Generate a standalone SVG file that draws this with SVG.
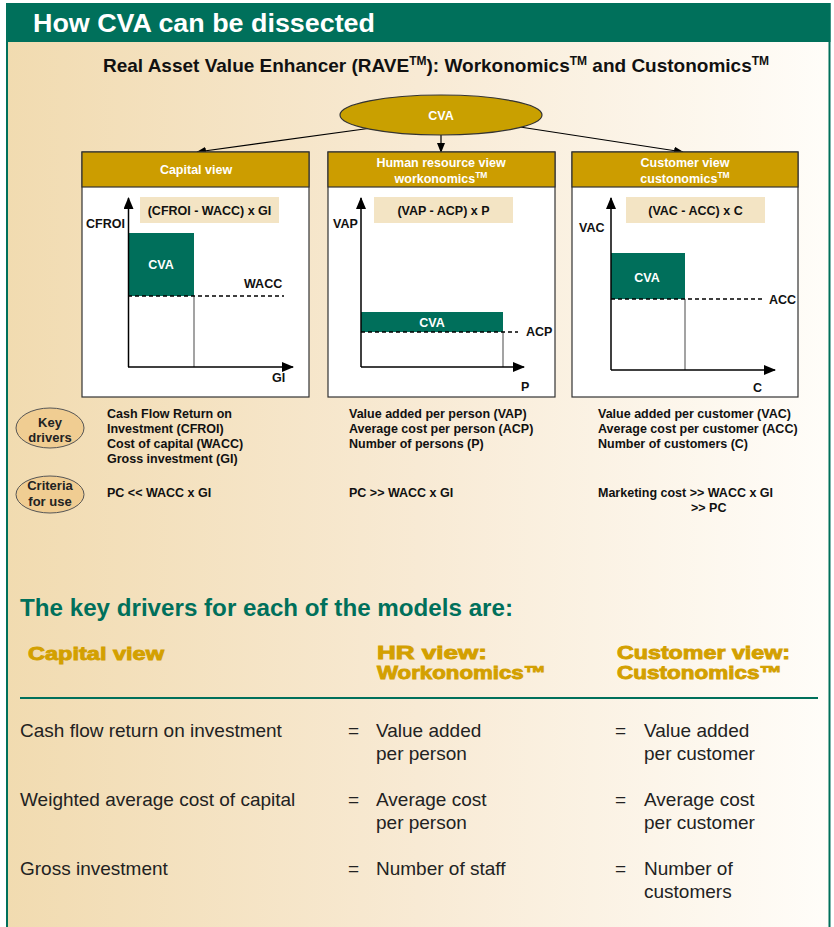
<svg xmlns="http://www.w3.org/2000/svg" width="834" height="927" viewBox="0 0 834 927">
<defs>
<linearGradient id="bg" x1="0" y1="0" x2="1" y2="0">
<stop offset="0" stop-color="#f1dbb0"/>
<stop offset="0.5" stop-color="#f8ead4"/>
<stop offset="1" stop-color="#fffdf9"/>
</linearGradient>
<marker id="ah" markerWidth="10" markerHeight="8" refX="9" refY="4" orient="auto" markerUnits="userSpaceOnUse">
<path d="M0,0 L10,4 L0,8 Z" fill="#000"/>
</marker>
<marker id="ax" markerWidth="12" markerHeight="10" refX="11" refY="5" orient="auto" markerUnits="userSpaceOnUse">
<path d="M0,0 L12,5 L0,10 Z" fill="#000"/>
</marker>
</defs>
<style>
text{font-family:"Liberation Sans",Arial,sans-serif}
.hd{fill:#fff;font-weight:bold;font-size:12.5px;text-anchor:middle}
.box{fill:#fff;stroke:#333;stroke-width:1.2}
.band{fill:#cc9d00;stroke:#333;stroke-width:1.2}
.fb{fill:#f3e4c4}
.ft{font-weight:bold;font-size:12.5px;text-anchor:middle;fill:#111}
.ax{stroke:#000;stroke-width:1.5;fill:none;marker-end:url(#ax)}
.cva{fill:#006f5b}
.cvt{fill:#fff;font-weight:bold;font-size:12.5px;text-anchor:middle}
.vl{stroke:#666;stroke-width:1.2}
.dash{stroke:#000;stroke-width:1.6;stroke-dasharray:4 3}
.lb{font-weight:bold;font-size:12.5px;fill:#111}
.kd{font-weight:bold;font-size:12.5px;fill:#111}
.oval{fill:#f0cd92;stroke:#555;stroke-width:1}
.ot{font-weight:bold;font-size:13px;text-anchor:middle;fill:#222}
.gold{fill:#d3a000;stroke:#d3a000;stroke-width:0.9;font-weight:bold;font-size:18.5px}
.row{font-size:19px;fill:#222}
.con{stroke:#000;stroke-width:1.2;fill:none;marker-end:url(#ah)}
</style>
<rect x="0" y="0" width="834" height="927" fill="#fff"/>
<rect x="6" y="3" width="824" height="924" fill="url(#bg)"/>
<line x1="7" y1="3" x2="7" y2="927" stroke="#00705b" stroke-width="2"/>
<line x1="829.5" y1="3" x2="829.5" y2="927" stroke="#00705b" stroke-width="2"/>
<rect x="6" y="3" width="824.5" height="39" fill="#00705b"/>
<text x="33" y="32" fill="#fff" font-weight="bold" font-size="25.5" textLength="342" lengthAdjust="spacingAndGlyphs">How CVA can be dissected</text>
<text x="436" y="72" font-weight="bold" font-size="19" text-anchor="middle" fill="#111">Real Asset Value Enhancer (RAVE<tspan font-size="12" dy="-7">TM</tspan><tspan dy="7">): Workonomics</tspan><tspan font-size="12" dy="-7">TM</tspan><tspan dy="7"> and Custonomics</tspan><tspan font-size="12" dy="-7">TM</tspan></text>

<g id="connectors">
<line class="con" x1="368" y1="128.5" x2="197" y2="152"/>
<line class="con" x1="441" y1="135" x2="441" y2="152"/>
<line class="con" x1="520" y1="127" x2="683" y2="152"/>
</g>

<g id="cva-root">
<ellipse cx="441" cy="115" rx="101" ry="20" fill="#c9a000" stroke="#333" stroke-width="1.2"/>
<text x="441" y="120" class="cvt">CVA</text>
</g>

<g id="capital-view">
<rect class="box" x="82" y="152" width="227" height="245"/>
<rect class="band" x="82" y="152" width="227" height="35"/>
<text class="hd" x="196" y="174">Capital view</text>
<rect class="fb" x="140" y="197" width="139" height="26"/>
<text class="ft" x="209.5" y="215">(CFROI - WACC) x GI</text>
<rect class="cva" x="128" y="233" width="66" height="63"/>
<text class="cvt" x="161" y="269">CVA</text>
<line class="vl" x1="194" y1="296" x2="194" y2="367"/>
<line class="dash" x1="128" y1="296" x2="284" y2="296"/>
<line class="ax" x1="128.5" y1="367" x2="128.5" y2="198"/>
<line class="ax" x1="128" y1="367" x2="293" y2="367"/>
<text class="lb" x="86" y="228">CFROI</text>
<text class="lb" x="244" y="288">WACC</text>
<text class="lb" x="272" y="382">GI</text>
</g>

<g id="hr-view">
<rect class="box" x="328" y="152" width="227" height="245"/>
<rect class="band" x="328" y="152" width="227" height="35"/>
<text class="hd" x="441" y="167">Human resource view</text>
<text class="hd" x="441" y="183">workonomics<tspan font-size="8.5" dy="-5">TM</tspan></text>
<rect class="fb" x="374" y="197" width="139" height="26"/>
<text class="ft" x="443.5" y="215">(VAP - ACP) x P</text>
<rect class="cva" x="361" y="312" width="142" height="20"/>
<text class="cvt" x="432" y="327">CVA</text>
<line class="vl" x1="503" y1="332" x2="503" y2="367"/>
<line class="dash" x1="361" y1="332" x2="518" y2="332"/>
<line class="ax" x1="361" y1="367" x2="361" y2="198"/>
<line class="ax" x1="361" y1="367" x2="524" y2="367"/>
<text class="lb" x="333" y="228">VAP</text>
<text class="lb" x="526" y="336">ACP</text>
<text class="lb" x="521" y="391">P</text>
</g>

<g id="customer-view">
<rect class="box" x="572" y="152" width="226" height="245"/>
<rect class="band" x="572" y="152" width="226" height="35"/>
<text class="hd" x="685" y="167">Customer view</text>
<text class="hd" x="685" y="183">custonomics<tspan font-size="8.5" dy="-5">TM</tspan></text>
<rect class="fb" x="626" y="197" width="139" height="26"/>
<text class="ft" x="695.5" y="215">(VAC - ACC) x C</text>
<rect class="cva" x="611" y="253" width="74" height="46"/>
<text class="cvt" x="647" y="282">CVA</text>
<line class="vl" x1="685" y1="299" x2="685" y2="370"/>
<line class="dash" x1="611" y1="299" x2="765" y2="299"/>
<line class="ax" x1="611" y1="370" x2="611" y2="198"/>
<line class="ax" x1="611" y1="370" x2="775" y2="370"/>
<text class="lb" x="579" y="232">VAC</text>
<text class="lb" x="769" y="304">ACC</text>
<text class="lb" x="753" y="392">C</text>
</g>

<g id="key-drivers">
<ellipse class="oval" cx="50" cy="428" rx="34" ry="20"/>
<text class="ot" x="50" y="427">Key</text>
<text class="ot" x="50" y="442">drivers</text>
<text class="kd" x="107" y="418">Cash Flow Return on</text>
<text class="kd" x="107" y="433">Investment (CFROI)</text>
<text class="kd" x="107" y="448">Cost of capital  (WACC)</text>
<text class="kd" x="107" y="463">Gross investment (GI)</text>
<text class="kd" x="349" y="418">Value added per person (VAP)</text>
<text class="kd" x="349" y="433">Average cost per person (ACP)</text>
<text class="kd" x="349" y="448">Number of persons (P)</text>
<text class="kd" x="598" y="418">Value added per customer (VAC)</text>
<text class="kd" x="598" y="433">Average cost per customer (ACC)</text>
<text class="kd" x="598" y="448">Number of customers (C)</text>
</g>

<g id="criteria">
<ellipse class="oval" cx="50" cy="494.5" rx="34" ry="18.5"/>
<text class="ot" x="50" y="490">Criteria</text>
<text class="ot" x="50" y="506">for use</text>
<text class="kd" x="107" y="497">PC &lt;&lt; WACC x GI</text>
<text class="kd" x="349" y="497">PC &gt;&gt; WACC x GI</text>
<text class="kd" x="598" y="497">Marketing cost &gt;&gt; WACC x GI</text>
<text class="kd" x="691" y="512">&gt;&gt; PC</text>
</g>

<g id="table">
<text x="20" y="616" fill="#00705b" font-weight="bold" font-size="23.5" textLength="493" lengthAdjust="spacingAndGlyphs">The key drivers for each of the models are:</text>
<text class="gold" x="28" y="660" textLength="136" lengthAdjust="spacingAndGlyphs">Capital view</text>
<text class="gold" x="377" y="659" textLength="110" lengthAdjust="spacingAndGlyphs">HR view:</text>
<text class="gold" x="377" y="679" textLength="169" lengthAdjust="spacingAndGlyphs">Workonomics™</text>
<text class="gold" x="617" y="659" textLength="173" lengthAdjust="spacingAndGlyphs">Customer view:</text>
<text class="gold" x="617" y="679" textLength="165" lengthAdjust="spacingAndGlyphs">Custonomics™</text>
<line x1="20" y1="698" x2="818" y2="698" stroke="#00705b" stroke-width="2"/>

<text class="row" x="20" y="737">Cash flow return on investment</text>
<text class="row" x="348" y="737">=</text>
<text class="row" x="376" y="737">Value added</text>
<text class="row" x="376" y="760">per person</text>
<text class="row" x="615" y="737">=</text>
<text class="row" x="644" y="737">Value added</text>
<text class="row" x="644" y="760">per customer</text>

<text class="row" x="20" y="806">Weighted average cost of capital</text>
<text class="row" x="348" y="806">=</text>
<text class="row" x="376" y="806">Average cost</text>
<text class="row" x="376" y="829">per person</text>
<text class="row" x="615" y="806">=</text>
<text class="row" x="644" y="806">Average cost</text>
<text class="row" x="644" y="829">per customer</text>

<text class="row" x="20" y="875">Gross investment</text>
<text class="row" x="348" y="875">=</text>
<text class="row" x="376" y="875">Number of staff</text>
<text class="row" x="615" y="875">=</text>
<text class="row" x="644" y="875">Number of</text>
<text class="row" x="644" y="898">customers</text>
</g>
</svg>
